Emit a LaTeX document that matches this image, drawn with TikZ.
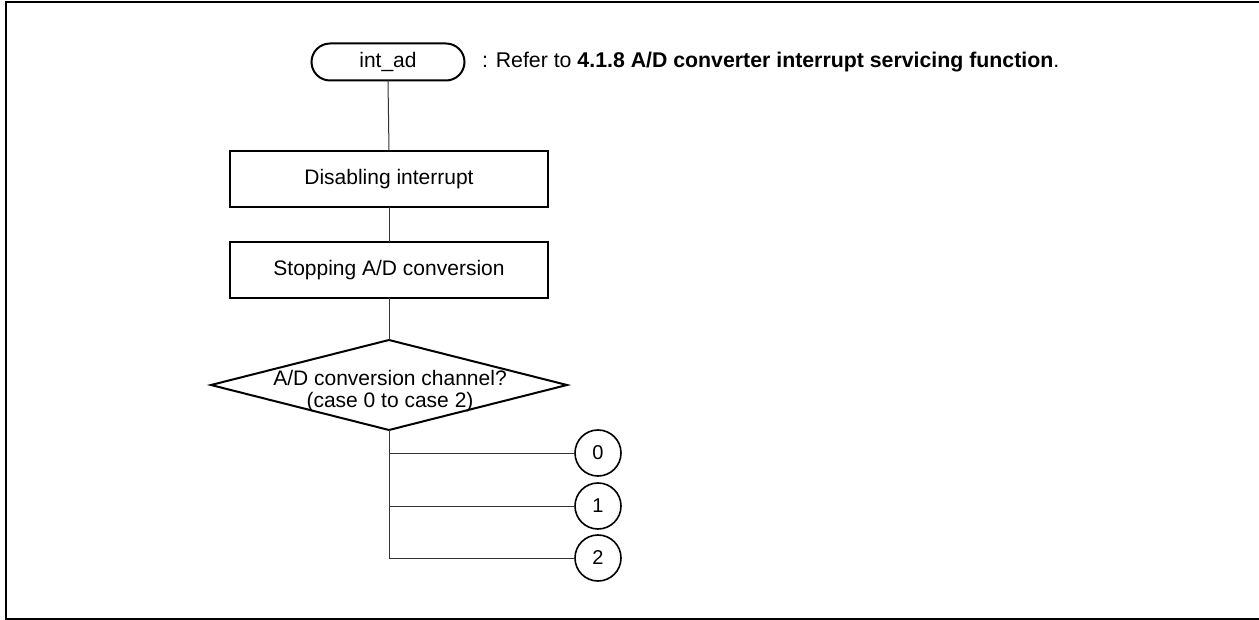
\documentclass[tikz,border=0pt]{standalone}
\usepackage{fontspec}
\setmainfont{Liberation Sans}
\usetikzlibrary{shapes.geometric,shapes.misc}
\begin{document}
\begin{tikzpicture}[x=1pt,y=-1pt,
  every node/.style={inner sep=0pt,outer sep=0pt,font=\fontsize{21}{24}\selectfont},
  term/.style={draw,line width=2pt,rounded rectangle,minimum width=153pt,minimum height=37pt},
  proc/.style={draw,line width=2pt,rectangle,minimum width=318pt,minimum height=56pt},
  decide/.style={draw,line width=2pt,diamond,minimum width=356pt,minimum height=90pt},
  conn/.style={draw,line width=1.6pt,circle,minimum size=46pt,font=\fontsize{20}{22}\selectfont},
  link/.style={line width=1pt,black!80}]
\useasboundingbox (0,0) rectangle (1259,620);
% outer frame
\draw[line width=2pt] (1270,2) -- (6,2) -- (6,619) -- (1270,619);

% start terminal and its reference note
\node[term] (start) at (388,62) {int\_ad};
\node[anchor=west,font=\fontsize{21.3}{24}\selectfont] (note) at (482,62) {: Refer to \textbf{4.1.8 A/D converter interrupt servicing function}.};

% processing steps
\node[proc] (s1) at (389,179) {Disabling interrupt};
\node[proc] (s2) at (389,270) {Stopping A/D conversion};

% branch decision
\node[decide] (dec) at (389,385) {};
\node[align=center,font=\fontsize{21}{22}\selectfont] (dectext) at (390,391) {A/D conversion channel?\\(case 0 to case 2)};

% case connectors
\node[conn] (c0) at (598,453) {0};
\node[conn] (c1) at (598,506) {1};
\node[conn] (c2) at (598,558) {2};

\coordinate (b0) at (389,453);
\coordinate (b1) at (389,506);
\coordinate (b2) at (389,558);

\draw[link] (start.south) -- (s1.north);
\draw[link] (s1.south) -- (s2.north);
\draw[link] (s2.south) -- (dec.north);
\draw[link] (dec.south) -- (b2) -- (c2.west);
\draw[link] (b0) -- (c0.west);
\draw[link] (b1) -- (c1.west);
\end{tikzpicture}
\end{document}
